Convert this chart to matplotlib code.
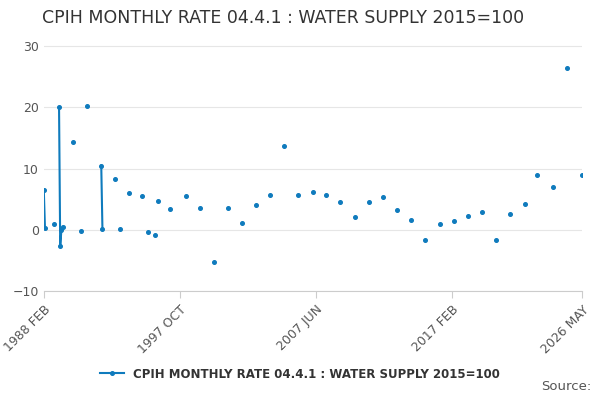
import numpy as np
import matplotlib
matplotlib.use("Agg")
import matplotlib.pyplot as plt
from matplotlib.lines import Line2D

dates = ["1988-02", "1988-03", "1988-11", "1989-03", "1989-04", "1989-05", "1989-06",
         "1990-03", "1990-10", "1991-03", "1992-03", "1992-04", "1993-03", "1993-07",
         "1994-03", "1995-02", "1995-07", "1996-01", "1996-03", "1997-02", "1998-03",
         "1999-03", "2000-03", "2001-03", "2002-03", "2003-03", "2004-03", "2005-03",
         "2006-03", "2007-04", "2008-03", "2009-03", "2010-03", "2011-03", "2012-03",
         "2013-03", "2014-03", "2015-03", "2016-04", "2017-04", "2018-04", "2019-04",
         "2020-04", "2021-04", "2022-04", "2023-03", "2024-04", "2025-04", "2026-05"]
values = [6.5, 0.3, 1.0, 20.0, -2.7, 0.0, 0.5,
          14.4, -0.2, 20.2, 10.5, 0.2, 8.3, 0.2,
          6.0, 5.5, -0.3, -0.8, 4.7, 3.4, 5.5,
          3.6, -5.3, 3.6, 1.1, 4.0, 5.7, 13.7,
          5.7, 6.2, 5.7, 4.6, 2.1, 4.6, 5.3,
          3.2, 1.6, -1.7, 1.0, 1.5, 2.3, 2.9,
          -1.7, 2.6, 4.3, 9.0, 7.0, 26.5, 9.0]
tick_labels = ["1988 FEB", "1997 OCT", "2007 JUN", "2017 FEB", "2026 MAY"]
title = "CPIH MONTHLY RATE 04.4.1 : WATER SUPPLY 2015=100"


def month_index(s):
    y, m = map(int, s.split("-"))
    return (y - 1988) * 12 + (m - 2)


idx = np.array([month_index(d) for d in dates])
n = 460
series = np.full(n, np.nan)
series[idx] = values

color = "#0f7bbd"
fig = plt.figure(figsize=(6, 4), dpi=100)
ax = fig.add_axes([0.073, 0.272, 0.897, 0.625])
ax.plot(np.arange(n), series, color=color, lw=1.5)
ax.plot(idx, values, "o", color=color, ms=2.6)

ax.set_xlim(0, 459)
ax.set_ylim(-10, 30.8)
ax.set_yticks([-10, 0, 10, 20, 30])
ax.set_xticks([0, 116, 232, 348, 459])
ax.set_xticklabels(tick_labels, rotation=45, ha="right", rotation_mode="anchor")
ax.tick_params(axis="both", labelsize=9, colors="#555555", length=0)
ax.tick_params(axis="x", length=5, color="#cccccc")
ax.grid(axis="y", color="#e6e6e6", lw=0.8)
for s in ("top", "right", "left"):
    ax.spines[s].set_visible(False)
ax.spines["bottom"].set_color("#cccccc")

fig.text(0.07, 0.955, title, fontsize=12.5, color="#333333", va="center")
handle = Line2D([], [], color=color, marker="o", ms=2.6, lw=1.5)
fig.legend([handle], [title], loc="center", bbox_to_anchor=(0.5, 0.065),
           frameon=False, prop={"size": 8.5, "weight": "bold"}, labelcolor="#333333",
           handlelength=2.0)
fig.text(0.985, 0.025, "Source:", fontsize=9.5, color="#555555", ha="right")
fig.savefig("out.png")
